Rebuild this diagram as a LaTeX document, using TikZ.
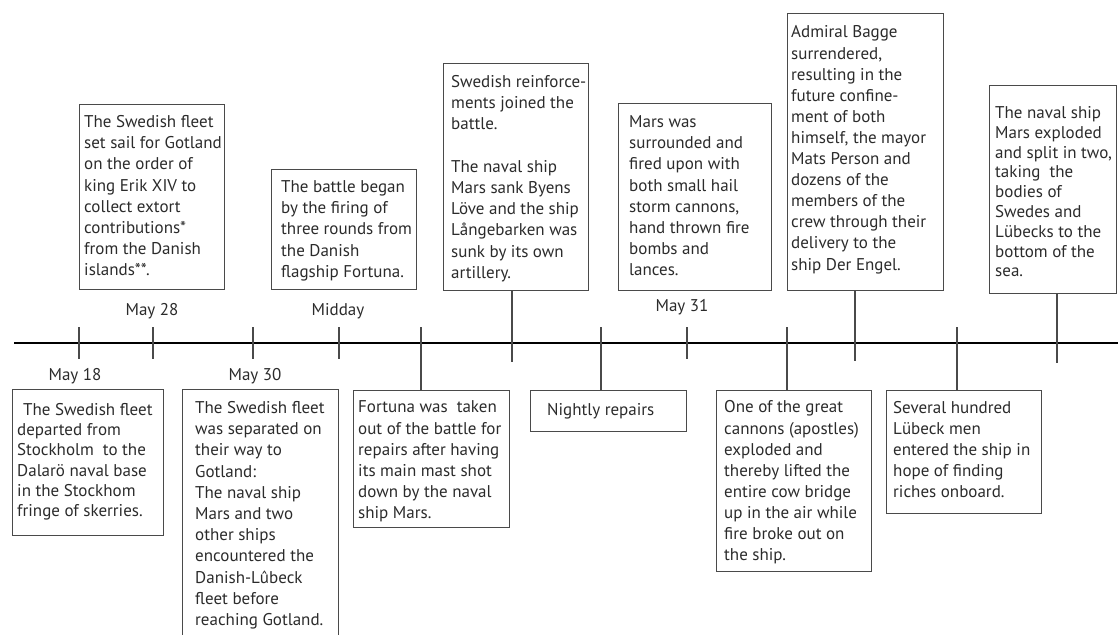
\documentclass[tikz,border=0pt]{standalone}
\usepackage{fontspec}
\setmainfont{PT Sans}
\usetikzlibrary{calc}
\definecolor{boxc}{HTML}{4A4A4A}
\definecolor{txtc}{HTML}{2B2B2B}
\newcommand{\evf}[1]{\fontsize{17}{#1}\selectfont}
\begin{document}
\begin{tikzpicture}[x=1pt,y=-1pt,
  evbox/.style={draw=boxc, line width=1.4pt, anchor=north west, inner sep=0pt},
  evtxt/.style={anchor=north west, inner sep=0pt, align=left, text=txtc},
  datelbl/.style={anchor=base, inner sep=0pt, text=txtc, font=\evf{20}},
  conn/.style={draw=boxc, line width=1.4pt},
  axisline/.style={draw=black, line width=2.4pt}]
\useasboundingbox (0,0) rectangle (1118,634);
\clip (0,0) rectangle (1118,634);

% axis
\coordinate (ax0) at (14,343);
\coordinate (ax1) at (1118,343);
\draw[axisline] (ax0) -- (ax1);

% short ticks
\foreach \i/\x in {1/79,2/153,3/253,4/339,5/687}{
  \coordinate (ka\i) at (\x,327);
  \coordinate (kb\i) at (\x,359);
  \draw[conn] (ka\i) -- (kb\i);
}

% ---------- upper boxes ----------
\node[evbox, minimum width=145pt, minimum height=185pt] (b1) at (79,104) {};
\node[evtxt, font=\evf{21.1}] (x1) at ([xshift=5pt]b1.north west)
 {\rule{0pt}{23.5pt}The Swedish fleet\\set sail for Gotland\\on the order of\\king Erik XIV to\\collect extort\\contributions*\\from the Danish\\islands**.};

\node[evbox, minimum width=145pt, minimum height=120pt] (b2) at (271,169) {};
\node[evtxt, font=\evf{21.2}] (x2) at ([xshift=10pt]b2.north west)
 {\rule{0pt}{23.3pt}The battle began\\by the firing of\\three rounds from\\the Danish\\flagship Fortuna.};

\node[evbox, minimum width=145pt, minimum height=227pt] (b3) at (443,63) {};
\node[evtxt, font=\evf{21.2}] (x3) at ([xshift=8pt]b3.north west)
 {\rule{0pt}{24.3pt}Swedish reinforce-\\ments joined the\\battle.\\\mbox{}\\The naval ship\\Mars sank Byens\\Löve and the ship\\Långebarken was\\sunk by its own\\artillery.};

\node[evbox, minimum width=153pt, minimum height=187pt] (b4) at (618,103) {};
\node[evtxt, font=\evf{21.2}] (x4) at ([xshift=11pt]b4.north west)
 {\rule{0pt}{24.3pt}Mars was\\surrounded and\\fired upon with\\both small hail\\storm cannons,\\hand thrown fire\\bombs and\\lances.};

\node[evbox, minimum width=156pt, minimum height=277pt] (b5) at (787,13) {};
\node[evtxt, font=\evf{21.1}] (x5) at ([xshift=4pt]b5.north west)
 {\rule{0pt}{24.7pt}Admiral Bagge\\surrendered,\\resulting in the\\future confine-\\ment of both\\himself, the mayor\\Mats Person and\\dozens of the\\members of the\\crew through their\\delivery to the\\ship Der Engel.};

\node[evbox, minimum width=127pt, minimum height=208pt] (b6) at (989,85) {};
\node[evtxt, font=\evf{19.8}] (x6) at ([xshift=6pt]b6.north west)
 {\rule{0pt}{33.3pt}The naval ship\\Mars exploded\\and split in two,\\taking\ \ the\\bodies of\\Swedes and\\Lübecks to the\\bottom of the\\sea.};

% ---------- lower boxes ----------
\node[evbox, minimum width=151pt, minimum height=146pt] (b7) at (12,389) {};
\node[evtxt, font=\evf{20.3}] (x7) at ([xshift=5pt]b7.north west)
 {\rule{0pt}{26pt}\hspace*{6pt}The Swedish fleet\\departed from\\Stockholm\ \ to the\\Dalarö naval base\\in the Stockhom\\fringe of skerries.};

\node[evbox, minimum width=156pt, minimum height=262pt] (b8) at (182,389) {};
\node[evtxt, font=\evf{21.2}] (x8) at ([xshift=13pt]b8.north west)
 {\rule{0pt}{24.3pt}The Swedish fleet\\was separated on\\their way to\\Gotland:\\The naval ship\\Mars and two\\other ships\\encountered the\\Danish-Lûbeck\\fleet before\\reaching Gotland.};

\node[evbox, minimum width=156pt, minimum height=137pt] (b9) at (353,390) {};
\node[evtxt, font=\evf{21.1}] (x9) at ([xshift=5pt]b9.north west)
 {\rule{0pt}{22.7pt}Fortuna was\ \ taken\\out of the battle for\\repairs after having\\its main mast shot\\down by the naval\\ship Mars.};

\node[evbox, minimum width=156pt, minimum height=41pt] (b10) at (530,390) {};
\node[evtxt, font=\evf{21.1}] (x10) at ([xshift=17pt]b10.north west)
 {\rule{0pt}{25.7pt}Nightly repairs};

\node[evbox, minimum width=155pt, minimum height=181pt] (b11) at (716,390) {};
\node[evtxt, font=\evf{21.1}] (x11) at ([xshift=8pt]b11.north west)
 {\rule{0pt}{22.7pt}One of the great\\cannons (apostles)\\exploded and\\thereby lifted the\\entire cow bridge\\up in the air while\\fire broke out on\\the ship.};

\node[evbox, minimum width=155pt, minimum height=123pt] (b12) at (886,390) {};
\node[evtxt, font=\evf{21}] (x12) at ([xshift=7pt]b12.north west)
 {\rule{0pt}{23.3pt}Several hundred\\Lübeck men\\entered the ship in\\hope of finding\\riches onboard.};

% ---------- connectors ----------
\coordinate (c3) at (512,362);
\coordinate (c5) at (855,361);
\coordinate (c6) at (1057,363);
\draw[conn] (b3.south -| c3) -- (c3);
\draw[conn] (b5.south -| c5) -- (c5);
\draw[conn] (b6.south -| c6) -- (c6);

\coordinate (c9) at (421,327);
\coordinate (c10) at (601,327);
\coordinate (c11) at (787,327);
\coordinate (c12) at (957,327);
\draw[conn] (c9) -- (c9 |- b9.north);
\draw[conn] (c10) -- (c10 |- b10.north);
\draw[conn] (c11) -- (c11 |- b11.north);
\draw[conn] (c12) -- (c12 |- b12.north);

% ---------- date labels ----------
\node[datelbl] (d28) at (152,315) {May 28};
\node[datelbl] (dmid) at (338,315) {Midday};
\node[datelbl] (d31) at (682,311) {May 31};
\node[datelbl] (d18) at (75,380) {May 18};
\node[datelbl] (d30) at (255,380) {May 30};
\end{tikzpicture}
\end{document}
